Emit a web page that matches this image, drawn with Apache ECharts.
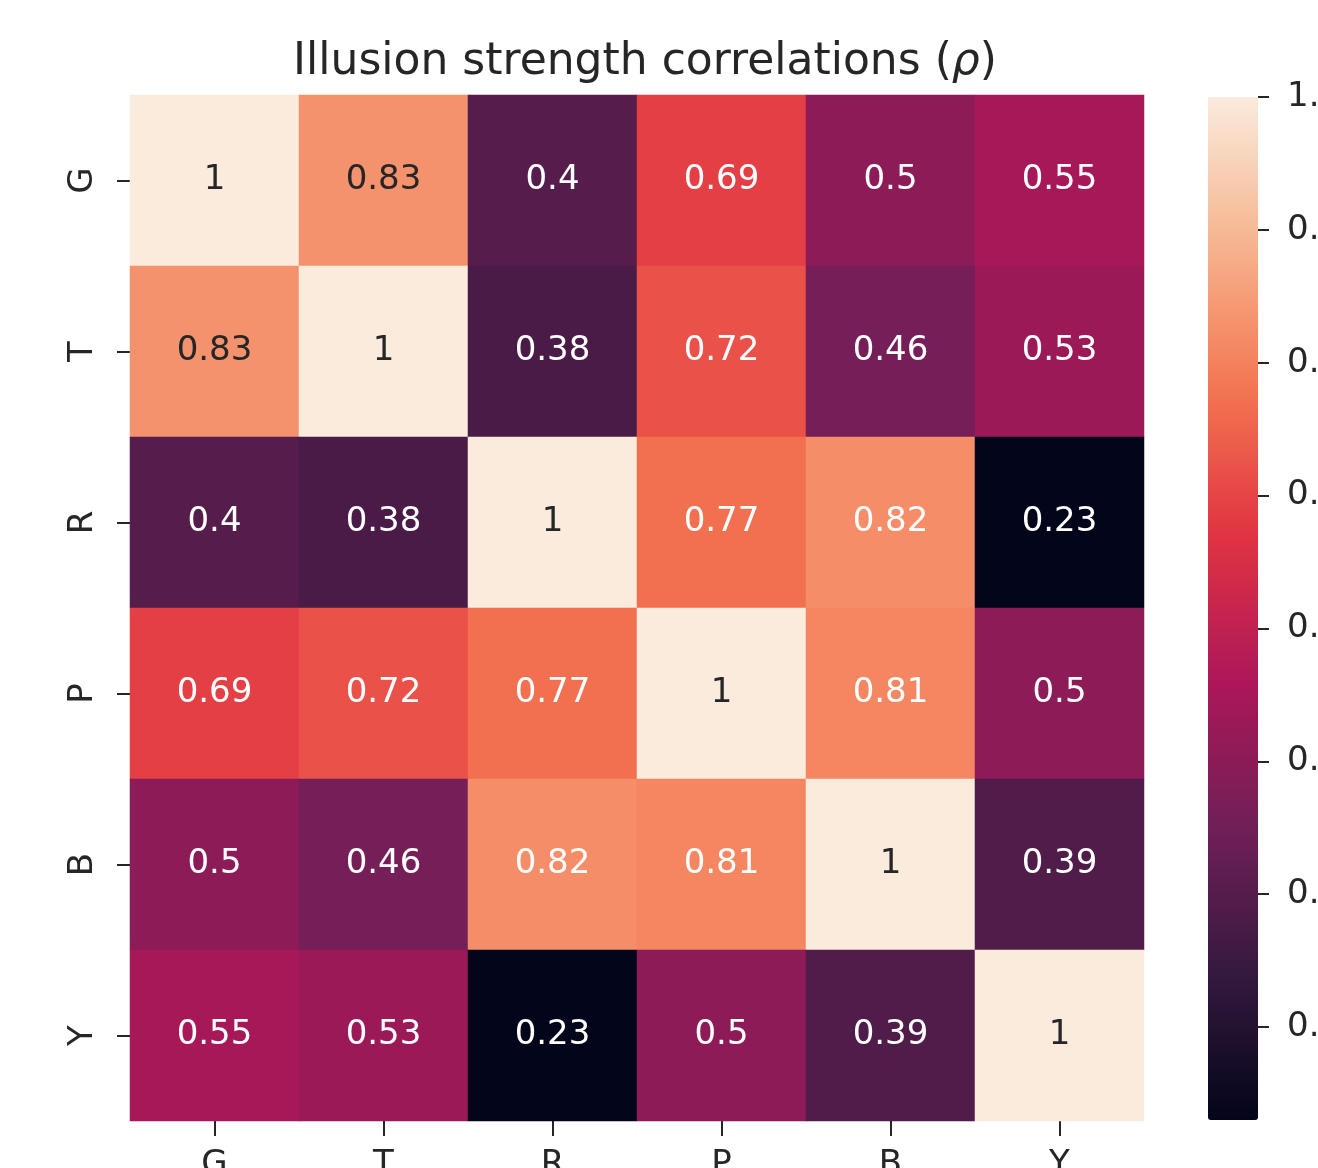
<!DOCTYPE html>
<html>
<head>
<meta charset="utf-8">
<script src="https://cdn.jsdelivr.net/npm/echarts@6/dist/echarts.min.js"></script>
<style>
  html, body { margin: 0; padding: 0; background: #ffffff; }
  #chart { width: 1318px; height: 1168px; }
</style>
</head>
<body>
<div id="chart"></div>
<script>
// Illusion labels (rows top-to-bottom, columns left-to-right)
const illusions = ['G', 'T', 'R', 'P', 'B', 'Y'];

// Spearman correlation rows
const rowG = [1, 0.83, 0.4, 0.69, 0.5, 0.55];
const rowT = [0.83, 1, 0.38, 0.72, 0.46, 0.53];
const rowR = [0.4, 0.38, 1, 0.77, 0.82, 0.23];
const rowP = [0.69, 0.72, 0.77, 1, 0.81, 0.5];
const rowB = [0.5, 0.46, 0.82, 0.81, 1, 0.39];
const rowY = [0.55, 0.53, 0.23, 0.5, 0.39, 1];

// Colour bar range and tick values
const colorMin = 0.23;
const colorMax = 1.0;
const colorTicks = [0.3, 0.4, 0.5, 0.6, 0.7, 0.8, 0.9, 1.0];

// "rocket" colour ramp
const rocket = ['#03051a', '#35193e', '#701f57', '#ad1759', '#e13342', '#f37651', '#f6b48f', '#faebdd'];

const rows = [rowG, rowT, rowR, rowP, rowB, rowY];
const cells = [];
rows.forEach((row, yi) => {
  row.forEach((v, xi) => {
    cells.push({
      value: [xi, yi, v],
      label: { color: v >= 0.83 ? '#262626' : '#ffffff' }
    });
  });
});

const fmt = v => String(Number(v.toPrecision(2)));
const ink = '#262626';
const font = 'DejaVu Sans';

const chart = echarts.init(document.getElementById('chart'), null, { renderer: 'canvas' });
chart.setOption({
  backgroundColor: '#ffffff',
  animation: false,
  title: {
    text: '{n|Illusion strength correlations (}{i|ρ}{n|)}',
    left: 640,
    textAlign: 'center',
    top: 36,
    textStyle: {
      rich: {
        n: { fontFamily: font, fontSize: 44, color: ink, fontWeight: 'normal' },
        i: { fontFamily: font, fontSize: 44, color: ink, fontWeight: 'normal', fontStyle: 'italic' }
      }
    }
  },
  grid: [
    { left: 130, top: 95, width: 1014, height: 1026, containLabel: false, outerBoundsMode: 'none' },
    { left: 1208, top: 97, width: 50, height: 1023, containLabel: false, outerBoundsMode: 'none' }
  ],
  xAxis: [
    {
      type: 'category',
      gridIndex: 0,
      data: illusions,
      position: 'bottom',
      axisLine: { show: false },
      axisTick: { show: true, alignWithLabel: true, length: 15, lineStyle: { color: ink, width: 2 } },
      axisLabel: { fontFamily: font, fontSize: 34, color: ink, margin: 27 },
      splitLine: { show: false }
    },
    { type: 'category', gridIndex: 1, data: ['c'], show: false }
  ],
  yAxis: [
    {
      type: 'category',
      gridIndex: 0,
      data: illusions,
      inverse: true,
      axisLine: { show: false },
      axisTick: { show: true, alignWithLabel: true, length: 13, lineStyle: { color: ink, width: 2 } },
      axisLabel: { fontFamily: font, fontSize: 34, color: ink, rotate: 90, margin: 30 },
      splitLine: { show: false }
    },
    {
      type: 'value',
      gridIndex: 1,
      position: 'right',
      min: colorMin,
      max: colorMax,
      z: 10,
      axisLine: { show: false, onZero: false },
      splitLine: { show: false },
      axisTick: { show: true, length: 11, customValues: colorTicks, lineStyle: { color: ink, width: 2 } },
      axisLabel: {
        show: true,
        customValues: colorTicks,
        formatter: v => v.toFixed(1),
        fontFamily: font, fontSize: 34, color: ink, margin: 29
      }
    }
  ],
  visualMap: {
    type: 'continuous',
    seriesIndex: 0,
    min: colorMin,
    max: colorMax,
    calculable: false,
    hoverLink: false,
    orient: 'vertical',
    left: 1208,
    top: 97,
    padding: 0,
    itemWidth: 50,
    itemHeight: 1023,
    textStyle: { color: 'rgba(0,0,0,0)' },
    inRange: { color: rocket }
  },
  series: [
    {
      type: 'heatmap',
      xAxisIndex: 0,
      yAxisIndex: 0,
      data: cells,
      label: {
        show: true,
        fontFamily: font,
        fontSize: 34,
        formatter: p => fmt(p.value[2])
      },
      itemStyle: { borderWidth: 0 },
      emphasis: { disabled: true }
    }
  ]
});
</script>
</body>
</html>
